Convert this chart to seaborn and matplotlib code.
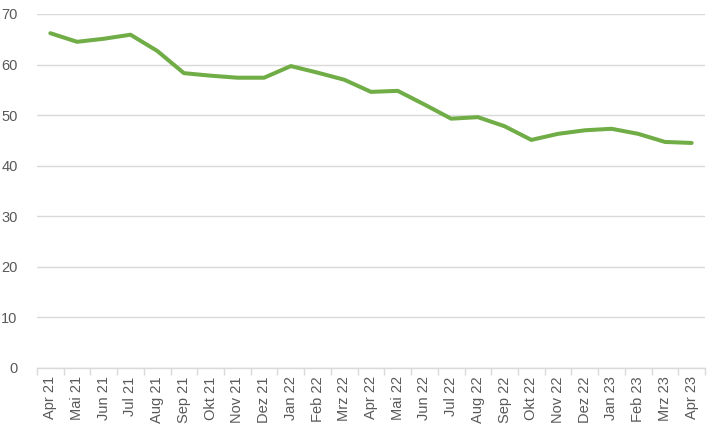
import matplotlib
matplotlib.use("Agg")
import matplotlib.pyplot as plt
import seaborn as sns
import pandas as pd
from matplotlib.ticker import FixedLocator

months = ["Apr 21", "Mai 21", "Jun 21", "Jul 21", "Aug 21", "Sep 21", "Okt 21", "Nov 21",
          "Dez 21", "Jan 22", "Feb 22", "Mrz 22", "Apr 22", "Mai 22", "Jun 22", "Jul 22",
          "Aug 22", "Sep 22", "Okt 22", "Nov 22", "Dez 22", "Jan 23", "Feb 23", "Mrz 23", "Apr 23"]
values = [66.2, 64.5, 65.1, 65.9, 62.7, 58.3, 57.8, 57.4, 57.4, 59.7, 58.4, 57.0, 54.6, 54.8,
          52.1, 49.3, 49.6, 47.8, 45.1, 46.3, 47.0, 47.3, 46.3, 44.7, 44.5]
y_ticks = [0, 10, 20, 30, 40, 50, 60, 70]

df = pd.DataFrame({"month": months, "value": values})

sns.set_theme(style="white")
plt.rcParams["font.family"] = ["Liberation Sans", "DejaVu Sans"]

fig = plt.figure(figsize=(7.11, 4.29), dpi=100)
ax = fig.add_axes([0.052, 0.1422, 0.9396, 0.8252])

sns.lineplot(data=df, x="month", y="value", sort=False, ax=ax, color="#70AD47",
             linewidth=2.9, solid_joinstyle="round", solid_capstyle="round")

ax.set_xlim(-0.5, len(months) - 0.5)
ax.set_ylim(0, 70)
ax.set_yticks(y_ticks)
ax.set_xticks(range(len(months)))
ax.set_xticklabels(months, rotation=90)
ax.xaxis.set_minor_locator(FixedLocator([i - 0.5 for i in range(len(months) + 1)]))
ax.tick_params(axis="x", which="major", length=0, pad=6, labelsize=10.5, labelcolor="#595959")
ax.tick_params(axis="x", which="minor", length=5, color="#D9D9D9", width=1, bottom=True)
ax.tick_params(axis="y", length=0, pad=14, labelsize=10.5, labelcolor="#595959")
ax.grid(axis="y", color="#D9D9D9", linewidth=1)
ax.set_axisbelow(True)
for s in ["top", "right", "left"]:
    ax.spines[s].set_visible(False)
ax.spines["bottom"].set_color("#D9D9D9")
ax.spines["bottom"].set_linewidth(1)
ax.set_xlabel("")
ax.set_ylabel("")

fig.savefig("out.png", dpi=100)
